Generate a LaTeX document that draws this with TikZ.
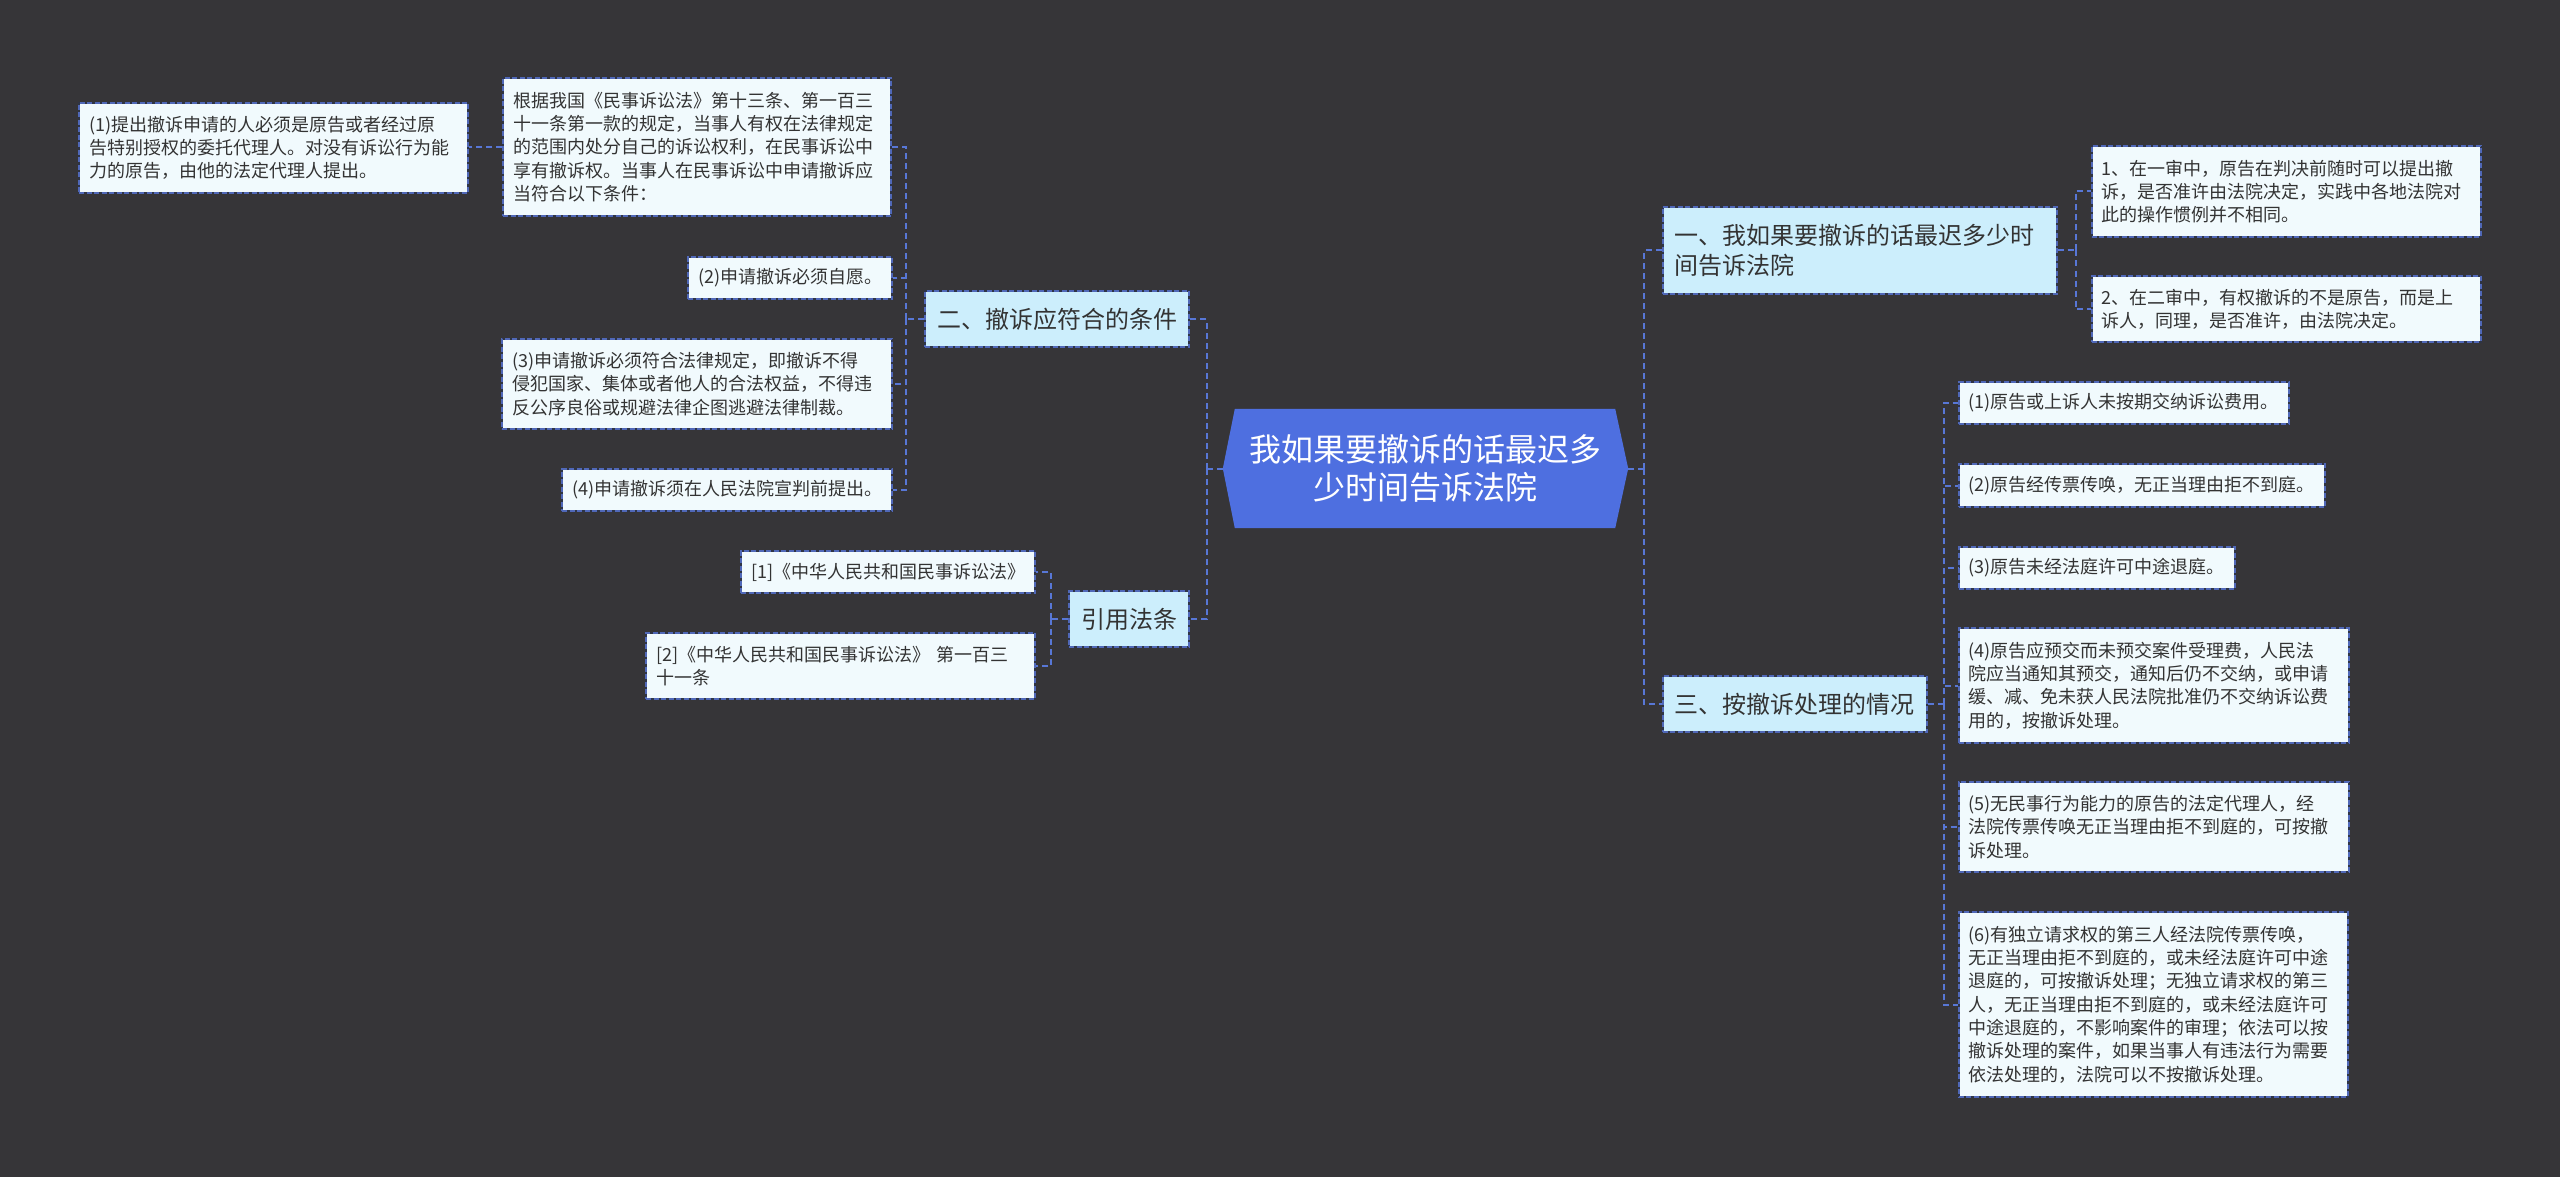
\documentclass[tikz,border=0pt]{standalone}
\usepackage{fontspec}
\newfontfamily\cjk{Noto Sans CJK SC}
\usetikzlibrary{backgrounds}
\definecolor{bgc}{HTML}{363538}
\definecolor{rootc}{HTML}{4E6FE0}
\definecolor{lvone}{HTML}{CCEEFC}
\definecolor{leafc}{HTML}{F1FAFD}
\definecolor{edgec}{HTML}{5877D6}
\definecolor{bordc}{HTML}{5068B8}
\definecolor{bordd}{HTML}{2E3446}
\definecolor{txtc}{HTML}{333333}
\tikzset{
  box/.style={draw=bordd, line width=1.6pt, postaction={draw=bordc, line width=1.6pt, dash pattern=on 5pt off 2.5pt}, text=txtc, align=left, inner ysep=0pt},
  leaf/.style={box, fill=leafc, font=\cjk\fontsize{18}{23.3}\selectfont, inner xsep=10pt},
  lv/.style={box, fill=lvone, font=\cjk\fontsize{24}{30.7}\selectfont, inner xsep=12pt},
  conn/.style={draw=edgec, line width=2pt, dash pattern=on 6pt off 4pt},
}
\begin{document}
\begin{tikzpicture}[x=1pt,y=-1pt]
\useasboundingbox (0,0) rectangle (2560,1177);
% root
\node[font=\cjk\fontsize{32}{38}\selectfont, text=white, align=center, minimum width=380, minimum height=119, inner sep=0pt] (root) at (1425,468.5) {我如果要撤诉的话最迟多\\少时间告诉法院};
% level one
\node[lv, anchor=east, minimum height=56] (c2) at (1190,319) {二、撤诉应符合的条件};
\node[lv, anchor=east, minimum height=56] (c4) at (1190,619) {引用法条};
\node[lv, anchor=west, minimum height=87, text width=370] (c1) at (1662,250.5) {一、我如果要撤诉的话最迟多少时\\间告诉法院};
\node[lv, anchor=west, minimum height=56] (c3) at (1662,704) {三、按撤诉处理的情况};
% left leaves
\node[leaf, anchor=east, minimum height=138, text width=368] (g) at (892,147) {根据我国《民事诉讼法》第十三条、第一百三\\十一条第一款的规定，当事人有权在法律规定\\的范围内处分自己的诉讼权利，在民事诉讼中\\享有撤诉权。当事人在民事诉讼中申请撤诉应\\当符合以下条件：};
\node[leaf, anchor=east, minimum height=90, text width=369] (a1) at (469,148) {(1)提出撤诉申请的人必须是原告或者经过原\\告特别授权的委托代理人。对没有诉讼行为能\\力的原告，由他的法定代理人提出。};
\node[leaf, anchor=east, minimum height=42] (a2) at (893,278) {(2)申请撤诉必须自愿。};
\node[leaf, anchor=east, minimum height=90, text width=370] (a3) at (893,384) {(3)申请撤诉必须符合法律规定，即撤诉不得\\侵犯国家、集体或者他人的合法权益，不得违\\反公序良俗或规避法律企图逃避法律制裁。};
\node[leaf, anchor=east, minimum height=42] (a4) at (893,490) {(4)申请撤诉须在人民法院宣判前提出。};
\node[leaf, anchor=east, minimum height=42] (r1) at (1036,572) {[1]《中华人民共和国民事诉讼法》};
\node[leaf, anchor=east, minimum height=66, text width=369] (r2) at (1036,666) {[2]《中华人民共和国民事诉讼法》 第一百三\\十一条};
% right leaves
\node[leaf, anchor=west, minimum height=91, text width=369] (b1) at (2091,191.5) {1、在一审中，原告在判决前随时可以提出撤\\诉，是否准许由法院决定，实践中各地法院对\\此的操作惯例并不相同。};
\node[leaf, anchor=west, minimum height=66, text width=369] (b2) at (2091,309) {2、在二审中，有权撤诉的不是原告，而是上\\诉人，同理，是否准许，由法院决定。};
\node[leaf, anchor=west, minimum height=42] (d1) at (1958,403) {(1)原告或上诉人未按期交纳诉讼费用。};
\node[leaf, anchor=west, minimum height=43] (d2) at (1958,485.5) {(2)原告经传票传唤，无正当理由拒不到庭。};
\node[leaf, anchor=west, minimum height=42] (d3) at (1958,568) {(3)原告未经法庭许可中途退庭。};
\node[leaf, anchor=west, minimum height=115, text width=370] (d4) at (1958,685.5) {(4)原告应预交而未预交案件受理费，人民法\\院应当通知其预交，通知后仍不交纳，或申请\\缓、减、免未获人民法院批准仍不交纳诉讼费\\用的，按撤诉处理。};
\node[leaf, anchor=west, minimum height=90, text width=370] (d5) at (1958,827) {(5)无民事行为能力的原告的法定代理人，经\\法院传票传唤无正当理由拒不到庭的，可按撤\\诉处理。};
\node[leaf, anchor=west, minimum height=185, text width=369] (d6) at (1958,1004.5) {(6)有独立请求权的第三人经法院传票传唤，\\无正当理由拒不到庭的，或未经法庭许可中途\\退庭的，可按撤诉处理；无独立请求权的第三\\人，无正当理由拒不到庭的，或未经法庭许可\\中途退庭的，不影响案件的审理；依法可以按\\撤诉处理的案件，如果当事人有违法行为需要\\依法处理的，法院可以不按撤诉处理。};
% connectors
\draw[conn] ([xshift=-12]root.west) -- ++(-16,0) coordinate (tL);
\draw[conn] (tL) |- (c2.east);
\draw[conn] (tL) |- (c4.east);
\draw[conn] ([xshift=13]root.east) -- ++(16,0) coordinate (tR);
\draw[conn] (tR) |- (c1.west);
\draw[conn] (tR) |- (c3.west);
\draw[conn] (c2.west) -- ++(-18,0) coordinate (t2);
\foreach \n in {g,a2,a3,a4} \draw[conn] (t2) |- (\n.east);
\draw[conn] (g.west) -- (g.west -| a1.east);
\draw[conn] (c4.west) -- ++(-17,0) coordinate (t4);
\foreach \n in {r1,r2} \draw[conn] (t4) |- (\n.east);
\draw[conn] (c1.east) -- ++(18,0) coordinate (t1);
\foreach \n in {b1,b2} \draw[conn] (t1) |- (\n.west);
\draw[conn] (c3.east) -- ++(16,0) coordinate (t3);
\foreach \n in {d1,d2,d3,d4,d5,d6} \draw[conn] (t3) |- (\n.west);
\begin{scope}[on background layer]
\fill[bgc] (0,0) rectangle (2560,1177);
\fill[rootc] (root.north west) -- (root.north east) -- ([xshift=13]root.east) -- (root.south east) -- (root.south west) -- ([xshift=-12]root.west) -- cycle;
\end{scope}
\end{tikzpicture}
\end{document}
